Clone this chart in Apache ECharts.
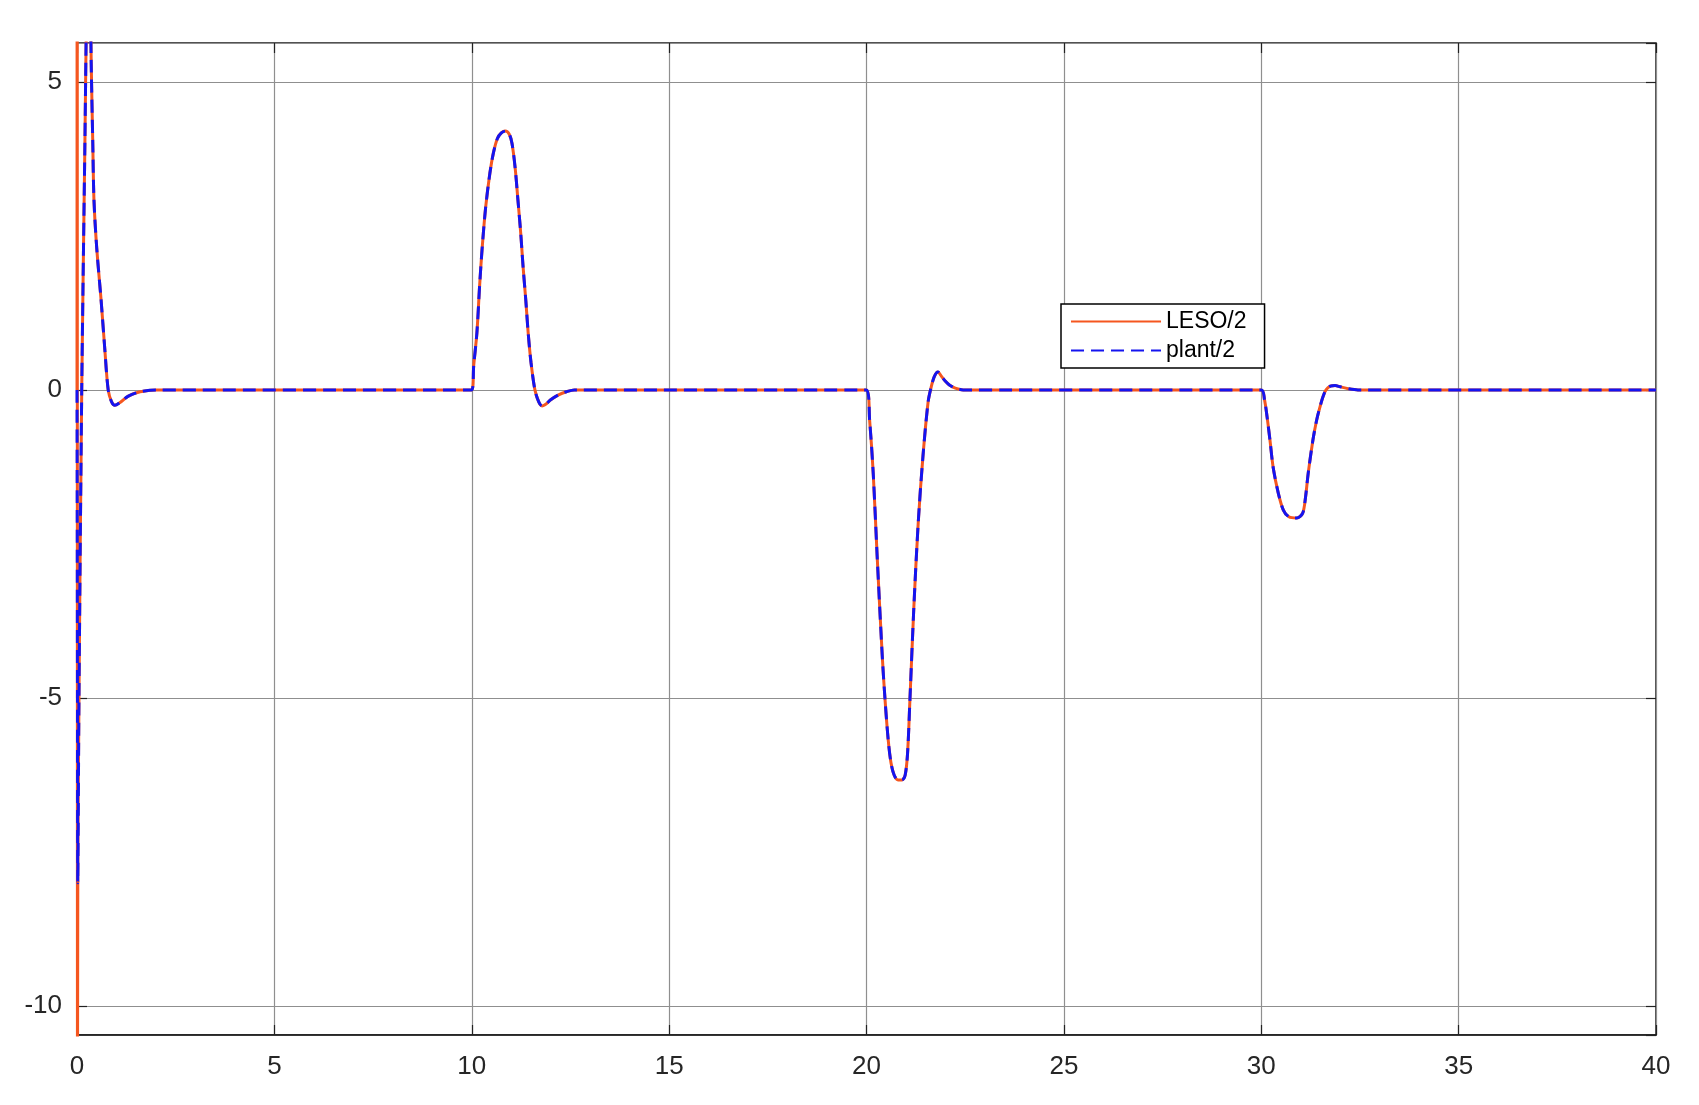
<!DOCTYPE html>
<html>
<head>
<meta charset="utf-8">
<script src="https://cdn.jsdelivr.net/npm/echarts@6/dist/echarts.min.js"></script>
<style>
html,body{margin:0;padding:0;background:#fff;}
#chart{width:1699px;height:1105px;}
</style>
</head>
<body>
<div id="chart"></div>
<script>
// time (s)
const time = [
  0, 0.005, 0.012, 0.02, 0.05, 0.12, 0.2, 0.25, 0.3, 0.33, 0.36, 0.4, 0.43, 0.5, 0.61, 0.7, 0.79, 0.88, 0.96, 1.1, 1.3, 1.6, 2.0,
  10.0, 10.05, 10.13, 10.2, 10.26, 10.35, 10.46, 10.55, 10.65, 10.75, 10.85, 10.95, 11.02, 11.1, 11.17, 11.24, 11.3, 11.37, 11.43, 11.5, 11.6, 11.7, 11.78, 11.9, 12.0, 12.2, 12.4, 12.6,
  20.0, 20.08, 20.17, 20.27, 20.4, 20.47, 20.55, 20.62, 20.7, 20.8, 20.9, 20.98, 21.04, 21.1, 21.2, 21.31, 21.43, 21.56, 21.64, 21.72, 21.81, 21.9, 22.0, 22.1, 22.25, 22.45,
  30.0, 30.08, 30.15, 30.22, 30.3, 30.43, 30.56, 30.7, 30.9, 31.05, 31.12, 31.19, 31.31, 31.4, 31.49, 31.57, 31.64, 31.75, 31.87, 32.0, 32.2, 32.45,
  40.0
];
// LESO/2
const leso = [
  0, 14, -14, -8, -5, 0, 4, 6.5, 7.5, 6.8, 5.3, 4.0, 3.08, 2.3, 1.46, 0.7, 0, -0.2, -0.25, -0.2, -0.1, -0.03, 0,
  0, 0.4, 0.92, 1.7, 2.27, 2.95, 3.52, 3.85, 4.08, 4.17, 4.2, 4.15, 4.0, 3.6, 3.08, 2.55, 2.0, 1.45, 0.92, 0.45, 0, -0.2, -0.26, -0.22, -0.16, -0.08, -0.03, 0,
  0, -0.5, -1.35, -2.7, -4.33, -5.03, -5.68, -6.05, -6.25, -6.33, -6.33, -6.25, -5.9, -5.03, -3.52, -2.16, -1.08, -0.2, 0.05, 0.22, 0.29, 0.22, 0.14, 0.08, 0.03, 0,
  0, -0.15, -0.45, -0.81, -1.25, -1.67, -1.95, -2.06, -2.08, -2.0, -1.75, -1.35, -0.81, -0.5, -0.27, -0.1, 0, 0.06, 0.07, 0.05, 0.02, 0,
  0
];
// plant/2
const plant = [
  0, -2, -5, -8, -5, 0, 4, 6.5, 7.5, 6.8, 5.3, 4.0, 3.08, 2.3, 1.46, 0.7, 0, -0.2, -0.25, -0.2, -0.1, -0.03, 0,
  0, 0.4, 0.92, 1.7, 2.27, 2.95, 3.52, 3.85, 4.08, 4.17, 4.2, 4.15, 4.0, 3.6, 3.08, 2.55, 2.0, 1.45, 0.92, 0.45, 0, -0.2, -0.26, -0.22, -0.16, -0.08, -0.03, 0,
  0, -0.5, -1.35, -2.7, -4.33, -5.03, -5.68, -6.05, -6.25, -6.33, -6.33, -6.25, -5.9, -5.03, -3.52, -2.16, -1.08, -0.2, 0.05, 0.22, 0.29, 0.22, 0.14, 0.08, 0.03, 0,
  0, -0.15, -0.45, -0.81, -1.25, -1.67, -1.95, -2.06, -2.08, -2.0, -1.75, -1.35, -0.81, -0.5, -0.27, -0.1, 0, 0.06, 0.07, 0.05, 0.02, 0,
  0
];
const seriesNames = ['LESO/2', 'plant/2'];
const xRange = [0, 40];
const yRange = [-10.47, 5.63];

const font = '"Liberation Sans", Arial, Helvetica, sans-serif';
function ticks() { return { show: true, inside: true, length: 10, lineStyle: { color: '#222', width: 1.2 } }; }
function grid() { return { show: true, lineStyle: { color: '#8f8f8f', width: 1.2 } }; }

const chart = echarts.init(document.getElementById('chart'), null, { renderer: 'canvas' });
chart.setOption({
  animation: false,
  backgroundColor: '#fff',
  grid: { left: 77, top: 43, right: 43, bottom: 70, show: true, borderColor: '#1a1a1a', borderWidth: 1.5, backgroundColor: 'transparent' },
  legend: {
    data: seriesNames,
    orient: 'vertical',
    left: 1061, top: 304,
    itemWidth: 90, itemHeight: 14, itemGap: 6,
    padding: [6, 18, 6, 9],
    backgroundColor: '#fff', borderColor: '#000', borderWidth: 1.5, borderRadius: 0,
    itemStyle: { opacity: 0 },
    textStyle: { fontFamily: font, fontSize: 23, color: '#000', padding: [0, 0, 0, 0] }
  },
  xAxis: [
    { type: 'value', min: xRange[0], max: xRange[1], interval: 5, position: 'bottom',
      axisLine: { show: true, onZero: false, lineStyle: { color: '#1a1a1a', width: 1.5 } },
      axisTick: ticks(), splitLine: grid(),
      axisLabel: { fontFamily: font, fontSize: 26, color: '#262626', margin: 19 } },
    { type: 'value', min: xRange[0], max: xRange[1], interval: 5, position: 'top',
      axisLine: { show: false, onZero: false }, axisTick: ticks(), splitLine: { show: false }, axisLabel: { show: false } }
  ],
  yAxis: [
    { type: 'value', min: yRange[0], max: yRange[1], splitNumber: 3, position: 'left',
      axisLine: { show: true, onZero: false, lineStyle: { color: '#1a1a1a', width: 1.5 } },
      axisTick: ticks(), splitLine: grid(),
      axisLabel: { fontFamily: font, fontSize: 26, color: '#262626', margin: 15, showMinLabel: false, showMaxLabel: false } },
    { type: 'value', min: yRange[0], max: yRange[1], splitNumber: 3, position: 'right',
      axisLine: { show: false, onZero: false }, axisTick: ticks(), splitLine: { show: false }, axisLabel: { show: false } }
  ],
  series: [
    { name: seriesNames[0], type: 'line', xAxisIndex: 0, yAxisIndex: 0,
      data: time.map((t, i) => [t, leso[i]]),
      showSymbol: false, symbol: 'none', smooth: 0.3, clip: true,
      lineStyle: { color: '#f5561f', width: 3 }, itemStyle: { color: '#f5561f' } },
    { name: seriesNames[1], type: 'line', xAxisIndex: 0, yAxisIndex: 0,
      data: time.map((t, i) => [t, plant[i]]),
      showSymbol: false, symbol: 'none', smooth: 0.3, clip: true,
      lineStyle: { color: '#1414f0', width: 3, type: [13, 7] }, itemStyle: { color: '#1414f0' } }
  ]
});
</script>
</body>
</html>
